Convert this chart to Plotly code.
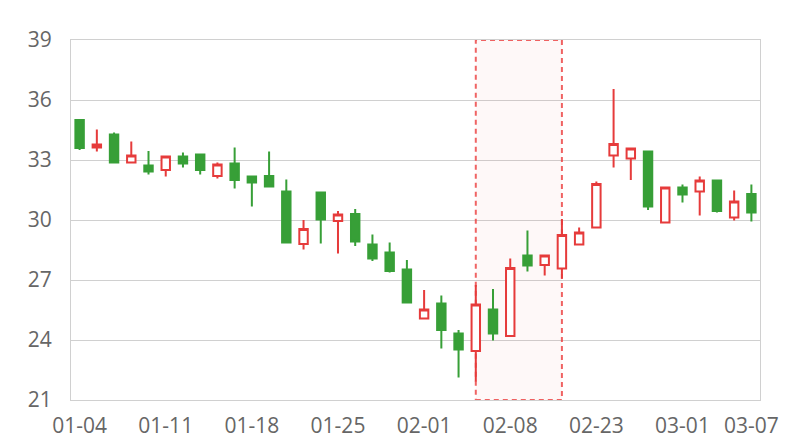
import plotly.graph_objects as go

dates = [
    "01-04", "01-05", "01-06", "01-07", "01-08",
    "01-11", "01-12", "01-13", "01-14", "01-15",
    "01-18", "01-19", "01-20", "01-21", "01-22",
    "01-25", "01-26", "01-27", "01-28", "01-29",
    "02-01", "02-02", "02-03", "02-04", "02-05",
    "02-08", "02-09", "02-10", "02-18", "02-19",
    "02-23", "02-24", "02-25", "02-26", "02-27",
    "03-01", "03-02", "03-03", "03-04", "03-07",
]
open_ = [35.00, 33.62, 34.28, 32.88, 32.72, 32.50, 33.17, 33.28, 32.20, 32.83,
         32.17, 32.20, 31.42, 28.80, 31.38, 29.95, 30.30, 28.78, 28.38, 27.53,
         25.08, 25.83, 24.33, 23.45, 25.53, 24.20, 28.22, 27.75, 27.58, 28.78,
         29.63, 33.22, 33.08, 33.42, 29.88, 31.62, 31.42, 31.97, 30.12, 31.30]
close = [33.60, 33.78, 32.88, 33.22, 32.42, 33.17, 32.83, 32.50, 32.78, 32.00,
         31.88, 31.67, 28.88, 29.55, 30.03, 30.28, 28.92, 28.07, 27.45, 25.88,
         25.53, 24.50, 23.53, 25.78, 24.33, 27.60, 27.72, 28.22, 29.25, 29.38,
         31.80, 33.80, 33.58, 30.67, 31.63, 31.28, 31.97, 30.45, 30.92, 30.37]
low = [33.50, 33.42, 32.88, 32.88, 32.28, 32.17, 32.62, 32.28, 32.08, 31.58,
       30.67, 31.62, 28.88, 28.53, 28.83, 28.33, 28.70, 27.95, 27.38, 25.88,
       25.08, 23.58, 22.13, 21.92, 23.97, 24.20, 27.42, 27.22, 27.08, 28.78,
       29.63, 32.62, 32.00, 30.50, 29.88, 30.88, 30.22, 30.37, 29.97, 29.92]
high = [35.05, 34.53, 34.38, 33.92, 33.45, 33.22, 33.38, 33.28, 32.88, 33.62,
        32.17, 33.42, 32.03, 30.00, 31.38, 30.45, 30.55, 29.28, 28.87, 28.00,
        26.50, 26.22, 24.50, 26.75, 26.55, 28.07, 29.47, 28.28, 30.05, 29.63,
        31.92, 36.55, 33.63, 33.42, 31.63, 31.78, 32.17, 31.97, 31.47, 31.78]

tick_labels = ["01-04", "01-11", "01-18", "01-25", "02-01", "02-08", "02-23", "03-01", "03-07"]
y_ticks = [21, 24, 27, 30, 33, 36, 39]
highlight_start = "02-04"
highlight_end = "02-18"

RED = "#e63b3b"
GREEN = "#379f37"
GRID = "#d0d0d0"
TXT = "#666666"

fig = go.Figure(go.Candlestick(
    x=dates, open=open_, high=high, low=low, close=close,
    increasing=dict(line=dict(color=RED, width=2), fillcolor="white"),
    decreasing=dict(line=dict(color=GREEN, width=2), fillcolor=GREEN),
    whiskerwidth=0,
    hoverinfo="skip",
))

fig.add_shape(
    type="rect", xref="x", yref="y",
    x0=highlight_start, x1=highlight_end, y0=21, y1=39,
    fillcolor="rgba(240,60,60,0.035)",
    line=dict(color="rgba(235,60,60,0.8)", width=2, dash="5px,4px"),
    layer="between",
)

fig.update_layout(
    width=800, height=440,
    margin=dict(l=71, r=40, t=40, b=40),
    paper_bgcolor="white", plot_bgcolor="white",
    showlegend=False,
    font=dict(family="Open Sans", size=21, color=TXT),
    xaxis=dict(
        type="category", categoryorder="array", categoryarray=dates,
        tickmode="array", tickvals=tick_labels, ticktext=tick_labels,
        showgrid=False, showline=True, linecolor=GRID, linewidth=1, mirror=True,
        ticks="", ticklabelstandoff=7, automargin=False,
        rangeslider=dict(visible=False),
        tickfont=dict(size=21, color=TXT),
    ),
    yaxis=dict(
        range=[21, 39], tickmode="array", tickvals=y_ticks,
        showgrid=True, gridcolor=GRID, gridwidth=1,
        showline=True, linecolor=GRID, linewidth=1, mirror=True,
        zeroline=False, ticks="", ticklabelstandoff=14, automargin=False,
        tickfont=dict(size=21, color=TXT),
    ),
)

fig.write_html(
    "out.html",
    config={"displayModeBar": False},
    post_script="document.body.style.margin='0';document.body.style.overflow='hidden';",
)
